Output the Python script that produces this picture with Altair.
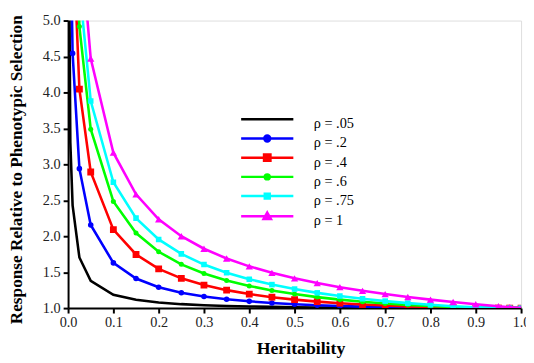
import altair as alt
import pandas as pd

# ---- data ----
H = [0.005, 0.01, 0.025, 0.05, 0.1, 0.15, 0.2, 0.25, 0.3, 0.35, 0.4, 0.45,
     0.5, 0.55, 0.6, 0.65, 0.7, 0.75, 0.8, 0.85, 0.9, 0.95, 0.975, 1.0]
H_black = [0.001] + H

rho_05 = [7.135, 3.302, 2.430, 1.704, 1.380, 1.186, 1.115, 1.078, 1.055, 1.041,
          1.030, 1.023, 1.017, 1.013, 1.009, 1.007, 1.005, 1.003, 1.002, 1.001,
          1.001, 1.000, 1.000, 1.000, 1.000]
rho_2 = [6.375, 4.543, 2.940, 2.156, 1.629, 1.412, 1.291, 1.214, 1.161, 1.122,
         1.094, 1.071, 1.054, 1.041, 1.030, 1.021, 1.015, 1.010, 1.006, 1.003,
         1.001, 1.000, 1.000, 1.000]
rho_4 = [8.964, 6.353, 4.045, 2.893, 2.092, 1.746, 1.546, 1.414, 1.320, 1.250,
         1.195, 1.152, 1.118, 1.090, 1.068, 1.050, 1.035, 1.024, 1.015, 1.008,
         1.004, 1.001, 1.000, 1.000]
rho_6 = [10.96, 7.756, 4.916, 3.488, 2.484, 2.044, 1.784, 1.609, 1.482, 1.385,
         1.308, 1.246, 1.195, 1.153, 1.118, 1.089, 1.064, 1.045, 1.028, 1.016,
         1.007, 1.002, 1.001, 1.000]
rho_75 = [12.25, 8.664, 5.483, 3.881, 2.751, 2.252, 1.955, 1.754, 1.606, 1.493,
          1.402, 1.327, 1.265, 1.212, 1.168, 1.130, 1.097, 1.069, 1.046, 1.027,
          1.013, 1.003, 1.001, 1.000]
rho_1 = [14.14, 10.0, 6.325, 4.472, 3.162, 2.582, 2.236, 2.000, 1.826, 1.690,
         1.581, 1.491, 1.414, 1.348, 1.291, 1.240, 1.195, 1.155, 1.118, 1.085,
         1.054, 1.026, 1.013, 1.000]

labels = ["ρ = .05", "ρ = .2", "ρ = .4", "ρ = .6", "ρ = .75", "ρ = 1"]
colors = ["#000000", "#0000FF", "#FF0000", "#00FF00", "#00FFFF", "#FF00FF"]
x_ticks = [0.0, 0.1, 0.2, 0.3, 0.4, 0.5, 0.6, 0.7, 0.8, 0.9, 1.0]
y_ticks = [1.0, 1.5, 2.0, 2.5, 3.0, 3.5, 4.0, 4.5, 5.0]

series = [(H_black, rho_05), (H, rho_2), (H, rho_4), (H, rho_6), (H, rho_75), (H, rho_1)]
rows = []
for lab, (hs, vs) in zip(labels, series):
    for h, v in zip(hs, vs):
        rows.append({"rho": lab, "h": h, "r": v})
df = pd.DataFrame(rows)

# marker shape per series (None = no marker), with size
markers = [None, ("circle", 32), ("square", 48), ("circle", 26), ("square", 32), ("triangle-up", 55)]

# legend symbols: a line with a marker (unit = 5px at size 100), drawn
# one unit above the entry centre so the label sits a little lower
L = "M-5.3,-1H5.3"
legend_paths = [
    L,
    L + "M0.6,-1A0.6,0.6,0,1,1,-0.6,-1A0.6,0.6,0,1,1,0.6,-1Z",
    L + "M-0.65,-1.65H0.65V-0.35H-0.65Z",
    L + "M0.5,-1A0.5,0.5,0,1,1,-0.5,-1A0.5,0.5,0,1,1,0.5,-1Z",
    L + "M-0.5,-1.5H0.5V-0.5H-0.5Z",
    L + "M0,-1.75L0.75,-0.45H-0.75Z",
]

FONT = "Liberation Serif, Times New Roman, Times, serif"

x_enc = alt.X("h:Q", scale=alt.Scale(domain=[0, 1], nice=False),
              axis=alt.Axis(values=x_ticks, format=".1f", title="Heritability",
                            grid=False, labelFlush=False, labelOverlap=False,
                            domainWidth=2, domainColor="black", tickWidth=2,
                            tickColor="black", tickSize=5, labelPadding=3,
                            labelFont=FONT, labelFontSize=14.5, labelColor="#222",
                            titleFont=FONT, titleFontSize=18, titleFontWeight="bold",
                            titleColor="black", titlePadding=11, titleX=236))
y_enc = alt.Y("r:Q", scale=alt.Scale(domain=[1, 5], nice=False),
              axis=alt.Axis(values=y_ticks, format=".1f",
                            title="Response Relative to Phenotypic Selection",
                            grid=False, labelFlush=False, labelOverlap=False,
                            domainWidth=2, domainColor="black", tickWidth=2,
                            tickColor="black", tickSize=5, labelPadding=3,
                            labelFont=FONT, labelFontSize=14.5, labelColor="#222",
                            titleFont=FONT, titleFontSize=17.5, titleFontWeight="bold",
                            titleColor="black", titlePadding=17, titleY=151))

base = alt.Chart(df)
layers = []
for lab, col, mk in zip(labels, colors, markers):
    sub = base.transform_filter(alt.datum.rho == lab)
    layers.append(sub.mark_line(color=col, strokeWidth=2.6, clip=True)
                  .encode(x=x_enc, y=y_enc, order="h:Q"))
    if mk is not None:
        layers.append(sub.mark_point(shape=mk[0], size=mk[1], filled=True,
                                     color=col, opacity=1, clip=True)
                      .encode(x=x_enc, y=y_enc))

leg = alt.Legend(title=None, orient="none", legendX=195, legendY=98,
                 symbolSize=100, symbolStrokeWidth=2.5, labelOffset=40,
                 labelFont=FONT, labelFontSize=14.5, labelColor="black",
                 labelBaseline="middle", rowPadding=-0.5, padding=0)
legend_layer = base.transform_filter("datum.h > 10").mark_point(
    filled=True, opacity=1, strokeWidth=2.5).encode(
    x=x_enc, y=y_enc,
    fill=alt.Fill("rho:N", scale=alt.Scale(domain=labels, range=colors), legend=leg),
    stroke=alt.Stroke("rho:N", scale=alt.Scale(domain=labels, range=colors), legend=leg),
    shape=alt.Shape("rho:N", scale=alt.Scale(domain=labels, range=legend_paths), legend=leg),
)
layers.append(legend_layer)

chart = alt.layer(*layers).properties(
    width=460, height=292,
    autosize=alt.AutoSizeParams(type="none"),
    padding={"left": 61, "top": 10, "right": 5, "bottom": 53},
).configure_view(strokeWidth=0).configure(background="white")

chart.save("out.html", embed_options={"renderer": "svg", "actions": False})
